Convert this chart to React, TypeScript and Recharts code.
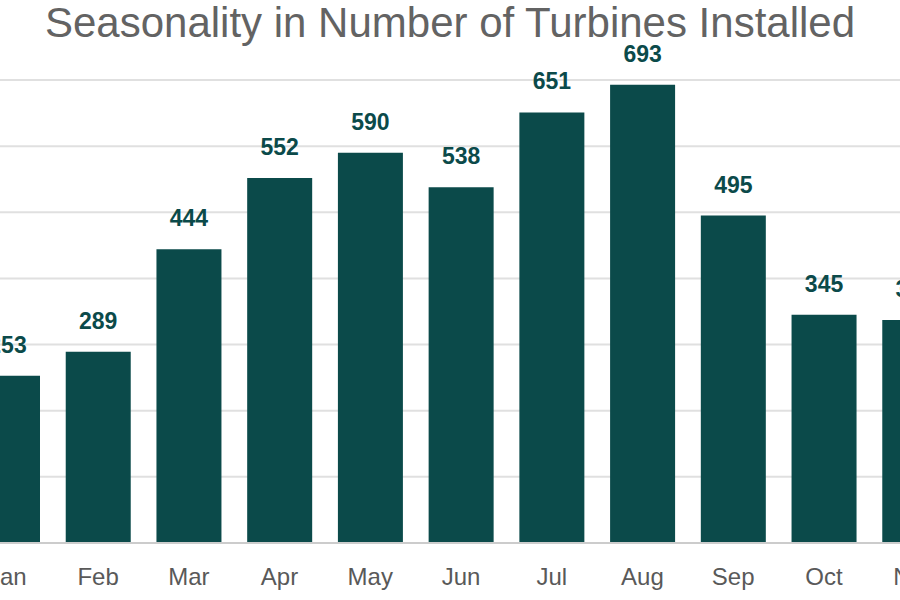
import { BarChart, Bar, XAxis, YAxis, CartesianGrid, LabelList } from 'recharts';

const months = ['Jan', 'Feb', 'Mar', 'Apr', 'May', 'Jun', 'Jul', 'Aug', 'Sep', 'Oct', 'Nov'];
const turbines = [253, 289, 444, 552, 590, 538, 651, 693, 495, 345, 337];
const yTicks = [0, 100, 200, 300, 400, 500, 600, 700];

const data = months.map((month, i) => ({ month, turbines: turbines[i] }));

const teal = '#0b4a4a';
const font = '"Liberation Sans", Arial, sans-serif';

export default function App() {
  return (
    <div
      style={{
        position: 'fixed',
        left: 0,
        top: 0,
        width: 900,
        height: 600,
        overflow: 'hidden',
        background: '#fff',
        fontFamily: font,
      }}
    >
      <div
        style={{
          position: 'absolute',
          left: 0,
          top: 2,
          width: 900,
          textAlign: 'center',
          fontSize: 42,
          lineHeight: '42px',
          color: '#636363',
          whiteSpace: 'nowrap',
        }}
      >
        Seasonality in Number of Turbines Installed
      </div>
      <div style={{ position: 'absolute', left: -38, top: 0 }}>
        <BarChart width={998} height={600} data={data} margin={{ top: 80, right: 0, bottom: 0, left: 0 }}>
          <CartesianGrid vertical={false} stroke="#e0e0e0" strokeWidth={2} />
          <YAxis hide domain={[0, 700]} ticks={yTicks} />
          <XAxis
            dataKey="month"
            height={57}
            tickLine={false}
            tickSize={0}
            tickMargin={25}
            stroke="#cccccc"
            strokeWidth={2}
            tick={{ fill: '#595959', fontSize: 24, fontFamily: font }}
            interval={0}
          />
          <Bar dataKey="turbines" fill={teal} barSize={65} isAnimationActive={false}>
            <LabelList
              dataKey="turbines"
              position="top"
              offset={23}
              fill={teal}
              fontSize={23}
              fontWeight="bold"
              fontFamily={font}
            />
          </Bar>
        </BarChart>
      </div>
    </div>
  );
}
